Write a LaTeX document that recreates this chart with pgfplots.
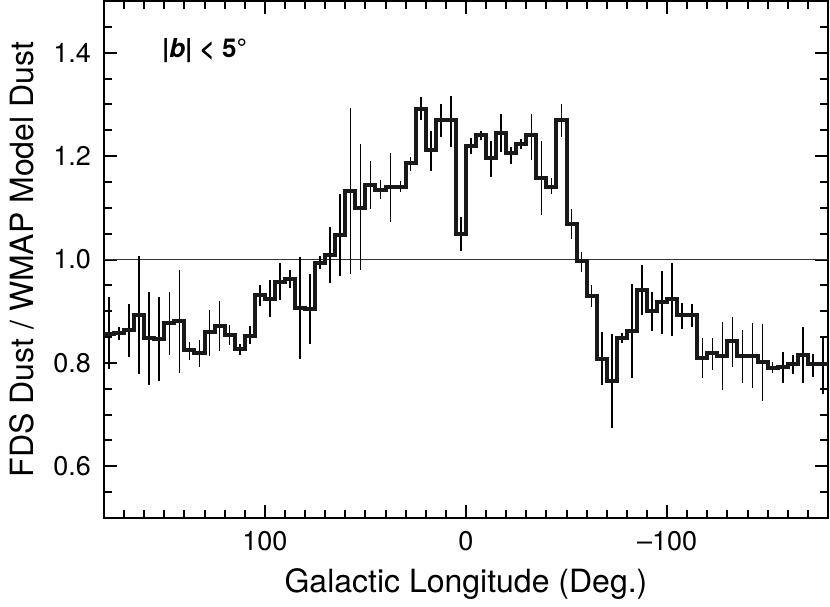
\documentclass[border=0pt]{standalone}
\usepackage{pgfplots}
\pgfplotsset{compat=1.18}
\usepackage{pgfplotstable}
\usepackage{fontspec}
\setmainfont{TeX Gyre Heros}

% xe = left bin edge (deg), y = ratio, lo/hi = error bar ends
\pgfplotstableread{
xe y lo hi
180 0.856 0.789 0.927
175 0.857 0.845 0.870
170 0.863 0.811 0.913
165 0.892 0.778 1.006
160 0.848 0.758 0.937
155 0.847 0.765 0.927
150 0.878 0.816 0.937
145 0.881 0.781 0.979
140 0.824 0.806 0.840
135 0.819 0.792 0.845
130 0.860 0.813 0.903
125 0.871 0.823 0.919
120 0.854 0.834 0.874
115 0.826 0.816 0.836
110 0.853 0.837 0.871
105 0.931 0.910 0.950
100 0.924 0.889 0.961
95 0.957 0.921 0.993
90 0.963 0.945 0.980
85 0.906 0.808 1.004
80 0.904 0.836 0.972
75 0.994 0.982 1.006
70 1.009 0.955 1.062
65 1.048 0.968 1.127
60 1.133 0.971 1.293
55 1.100 0.979 1.224
50 1.144 1.098 1.190
45 1.135 1.117 1.154
40 1.140 1.073 1.206
35 1.141 1.131 1.151
30 1.186 1.172 1.198
25 1.292 1.270 1.314
20 1.211 1.171 1.249
15 1.269 1.236 1.300
10 1.269 1.218 1.317
5 1.050 1.017 1.082
0 1.219 1.204 1.235
-5 1.240 1.232 1.248
-10 1.197 1.160 1.230
-15 1.245 1.207 1.282
-20 1.206 1.185 1.217
-25 1.224 1.214 1.234
-30 1.240 1.193 1.282
-35 1.158 1.087 1.230
-40 1.141 1.126 1.158
-45 1.270 1.236 1.300
-50 1.069 1.040 1.098
-55 0.998 0.976 1.014
-60 0.930 0.908 0.950
-65 0.808 0.757 0.860
-70 0.765 0.675 0.856
-75 0.848 0.838 0.858
-80 0.861 0.771 0.953
-85 0.941 0.892 0.990
-90 0.901 0.861 0.937
-95 0.917 0.856 0.977
-100 0.924 0.853 0.993
-105 0.892 0.866 0.916
-110 0.892 0.869 0.913
-115 0.809 0.771 0.848
-120 0.819 0.787 0.848
-125 0.813 0.748 0.879
-130 0.842 0.792 0.889
-135 0.813 0.762 0.863
-140 0.814 0.752 0.878
-145 0.802 0.726 0.876
-150 0.791 0.781 0.801
-155 0.792 0.762 0.821
-160 0.797 0.778 0.816
-165 0.816 0.762 0.869
-170 0.797 0.773 0.818
-175 0.798 0.740 0.851
-180 0.798 0.798 0.798
}\dustdata

\begin{document}
\begin{tikzpicture}
\begin{axis}[
  scale only axis,
  width=362pt, height=258.5pt,
  xmin=-180, xmax=180, x dir=reverse,
  ymin=0.5, ymax=1.5,
  xtick={100,0,-100},
  xticklabels={100,0,{--100}},
  minor xtick={-170,-160,...,170},
  ytick={0.6,0.8,1.0,1.2,1.4},
  minor ytick={0.55,0.65,0.7,0.75,0.85,0.9,0.95,1.05,1.1,1.15,1.25,1.3,1.35,1.45},
  yticklabel style={/pgf/number format/fixed, /pgf/number format/fixed zerofill, /pgf/number format/precision=1, /pgf/number format/assume math mode=true, xshift=-3pt},
  tick align=inside,
  major tick length=6.5pt,
  minor tick length=4pt,
  every tick/.style={black, line width=1pt},
  axis line style={line width=1.25pt, black},
  tick label style={font=\fontsize{13.5}{16}\selectfont},
  xticklabel style={yshift=-3pt},
  label style={font=\fontsize{16}{19}\selectfont},
  xlabel={Galactic Longitude (Deg.)},
  ylabel={FDS Dust / WMAP Model Dust},
  x label style={at={(axis description cs:0.5,-0.128)}, anchor=center, inner sep=0pt},
  y label style={at={(axis description cs:-0.113,0.5)}, anchor=center, inner sep=0pt},
  clip=true,
]
\addplot[line width=0.8pt, color=black!80, mark=none] coordinates {(180,1) (-180,1)};
\addplot[draw=none, mark=none,
  error bars/.cd, y dir=both, y explicit, error mark=none,
  error bar style={draw=black, line width=0.8pt}]
  table[x expr=\thisrow{xe}-2.5, y=y,
        y error plus expr=\thisrow{hi}-\thisrow{y},
        y error minus expr=\thisrow{y}-\thisrow{lo}] {\dustdata};
\addplot[const plot, line width=2pt, color=black!90, mark=none] table[x=xe, y=y] {\dustdata};
\node[font=\fontsize{13}{15}\selectfont\bfseries] at (axis cs:130,1.404) {|\textit{b}| < 5°};
\end{axis}
\pgfresetboundingbox
\path ([xshift=-52pt,yshift=-44pt]current axis.south west) rectangle ([xshift=1pt,yshift=0.5pt]current axis.north east);
\end{tikzpicture}
\end{document}
